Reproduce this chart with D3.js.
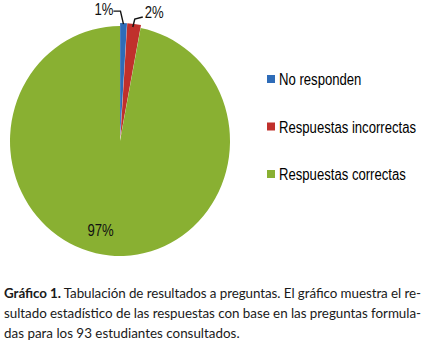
<!DOCTYPE html>
<html>
<head>
<meta charset="utf-8">
<script src="https://cdn.jsdelivr.net/npm/d3@7"></script>
<style>
  body { margin: 0; background: #fff; }
</style>
</head>
<body>
<div id="chart"></div>
<script>
//Data.
const categories = ["No responden", "Respuestas incorrectas", "Respuestas correctas"];
const percents = [1, 2, 97];
const colors = ["#2e6cb8", "#c0302c", "#89b032"];
const caption = [
  ["Gráfico 1.", " Tabulación de resultados a preguntas. El gráfico muestra el re-"],
  ["", "sultado estadístico de las respuestas con base en las preguntas formula-"],
  ["", "das para los 93 estudiantes consultados."]
];

const width = 427;
const height = 343;
const font = "Liberation Sans, Arial, sans-serif";
const squeeze = 0.82; //narrow look of the chart font

const svg = d3.select("#chart")
  .append("svg")
  .attr("width", width)
  .attr("height", height);

//Pie geometry (slightly taller than wide, as in the picture).
const cx = 120, cy = 141, r = 110, sy = 1.045;
const g = svg.append("g")
  .attr("transform", `translate(${cx},${cy}) scale(1,${sy})`);

const pie = d3.pie().sort(null).value(d => d);
const arcs = pie(percents);
const arc = d3.arc().innerRadius(0).outerRadius(r);

//Small slices are pulled out a little.
const explode = [3, 3, 0];

g.selectAll("path")
  .data(arcs)
  .enter()
  .append("path")
  .attr("d", arc)
  .attr("fill", (d, i) => colors[i])
  .attr("transform", (d, i) => {
    const a = (d.startAngle + d.endAngle) / 2;
    return `translate(${Math.sin(a) * explode[i]},${-Math.cos(a) * explode[i]})`;
  });

//Helper for narrow text placed at x,y.
function narrowText(parent, x, y, txt, size, anchor) {
  return parent.append("text")
    .attr("transform", `translate(${x},${y}) scale(${squeeze},1)`)
    .attr("font-size", size)
    .attr("text-anchor", anchor || "start")
    .text(txt);
}

//Leader lines and labels for the small slices.
const lab = svg.append("g")
  .attr("font-family", font)
  .attr("fill", "#111");

function edge(d, extra) {
  const a = (d.startAngle + d.endAngle) / 2;
  return [cx + Math.sin(a) * r, cy - Math.cos(a) * (r * sy + extra)];
}

const fmt = d3.format(".0%");

const p0 = edge(arcs[0], 2);
lab.append("path")
  .attr("d", `M${p0[0]},${p0[1]} L${p0[0] - 3},${p0[1] - 13} L${p0[0] - 10},${p0[1] - 13}`)
  .attr("fill", "none").attr("stroke", "#111").attr("stroke-width", 1.4);
narrowText(lab, p0[0] - 10, p0[1] - 9, fmt(percents[0] / 100), 16, "end");

const p1 = edge(arcs[1], 0);
lab.append("path")
  .attr("d", `M${p1[0] - 1},${p1[1]} L${p1[0] + 1},${p1[1] - 8} L${p1[0] + 9},${p1[1] - 10}`)
  .attr("fill", "none").attr("stroke", "#111").attr("stroke-width", 1.4);
narrowText(lab, p1[0] + 11, p1[1] - 9, fmt(percents[1] / 100), 16);

//Label inside the big slice.
const inner = d3.arc().innerRadius(r * 0.82).outerRadius(r * 0.82);
const c2 = inner.centroid(arcs[2]);
narrowText(lab, cx + c2[0] - 11, cy + c2[1] * sy + 1, fmt(percents[2] / 100), 16, "middle");

//Legend.
const legendY = d3.scalePoint().domain(categories).range([79, 174]);
const legend = svg.append("g")
  .attr("font-family", font)
  .attr("fill", "#000");

legend.selectAll("rect")
  .data(categories)
  .enter()
  .append("rect")
  .attr("x", 267)
  .attr("y", d => legendY(d) - 4)
  .attr("width", 8)
  .attr("height", 8)
  .attr("fill", (d, i) => colors[i]);

categories.forEach(c => narrowText(legend, 279, legendY(c) + 6, c, 16));

//Caption below the chart.
const cap = svg.append("g")
  .attr("font-family", "Lato, sans-serif")
  .attr("font-size", 13.4)
  .attr("fill", "#1a1a1a");

caption.forEach((line, i) => {
  const t = cap.append("text")
    .attr("x", 4)
    .attr("y", 298 + i * 20);
  if (i < 2) t.attr("textLength", 417).attr("lengthAdjust", "spacing");
  if (line[0]) t.append("tspan").attr("font-weight", "bold").text(line[0]);
  t.append("tspan").text(line[1]);
});
</script>
</body>
</html>
